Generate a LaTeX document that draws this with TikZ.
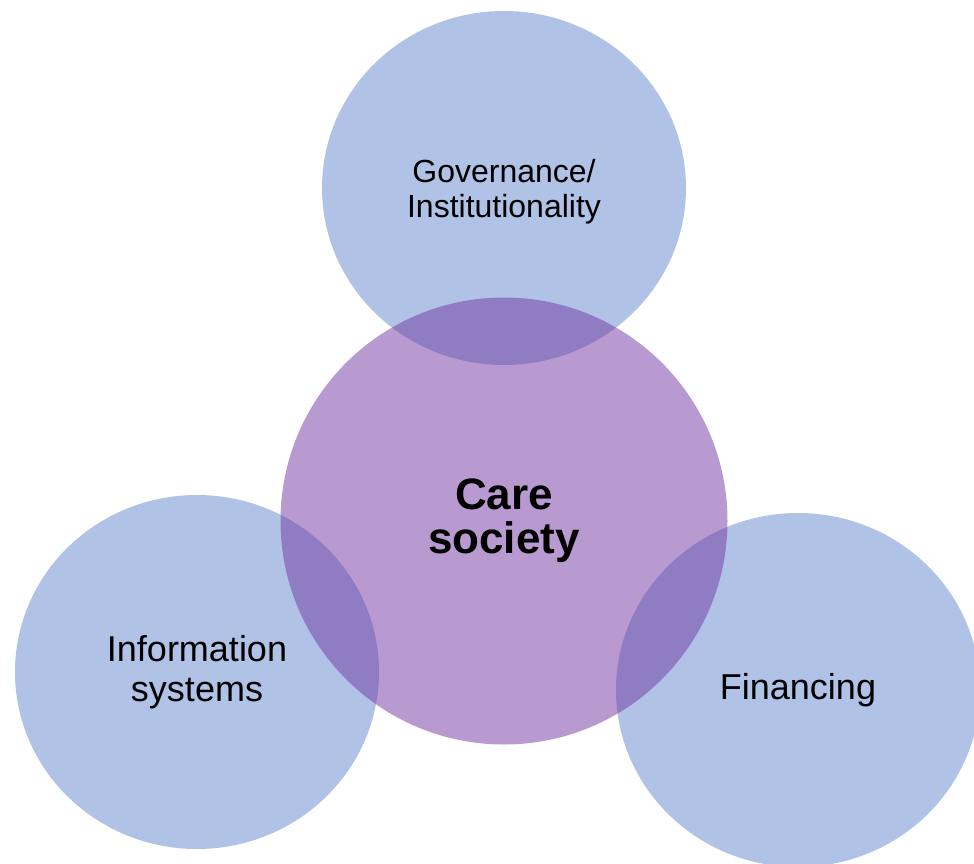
\documentclass[tikz,border=0pt]{standalone}
\usepackage{fontspec}
\setmainfont{Liberation Sans}
\usepackage{xcolor}
\usepackage{tikz}
\usetikzlibrary{shapes, shapes.geometric, positioning}
\definecolor{pillarblue}{RGB}{176,195,230}
\definecolor{carepurple}{RGB}{114,54,162}
\tikzstyle{pillar} = [ellipse, fill=pillarblue, minimum width=364pt, minimum height=354pt, inner sep=0pt, align=center, font=\fontsize{36}{40}\selectfont]
\tikzstyle{core} = [circle, fill=carepurple, fill opacity=0.5, text opacity=1, minimum size=447pt, inner sep=0pt, align=center, font=\fontsize{44}{44}\selectfont\bfseries]

\begin{document}
\begin{tikzpicture}[x=1pt,y=-1pt]
        \clip (0,0) rectangle (974,864);
        % outer pillars
        \node[pillar] (governance) at (504,188) {};
        \node[font=\fontsize{32}{35}\selectfont, align=center] (governancetext) at (504,192) {Governance/\\Institutionality};
        \node[pillar] (infosystems) at (197,672) {Information\\systems};
        \node[pillar] (financing) at (798,690) {Financing};
        % centre
        \node[core] (caresociety) at (504,521) {Care\\society};
\end{tikzpicture}
\end{document}
